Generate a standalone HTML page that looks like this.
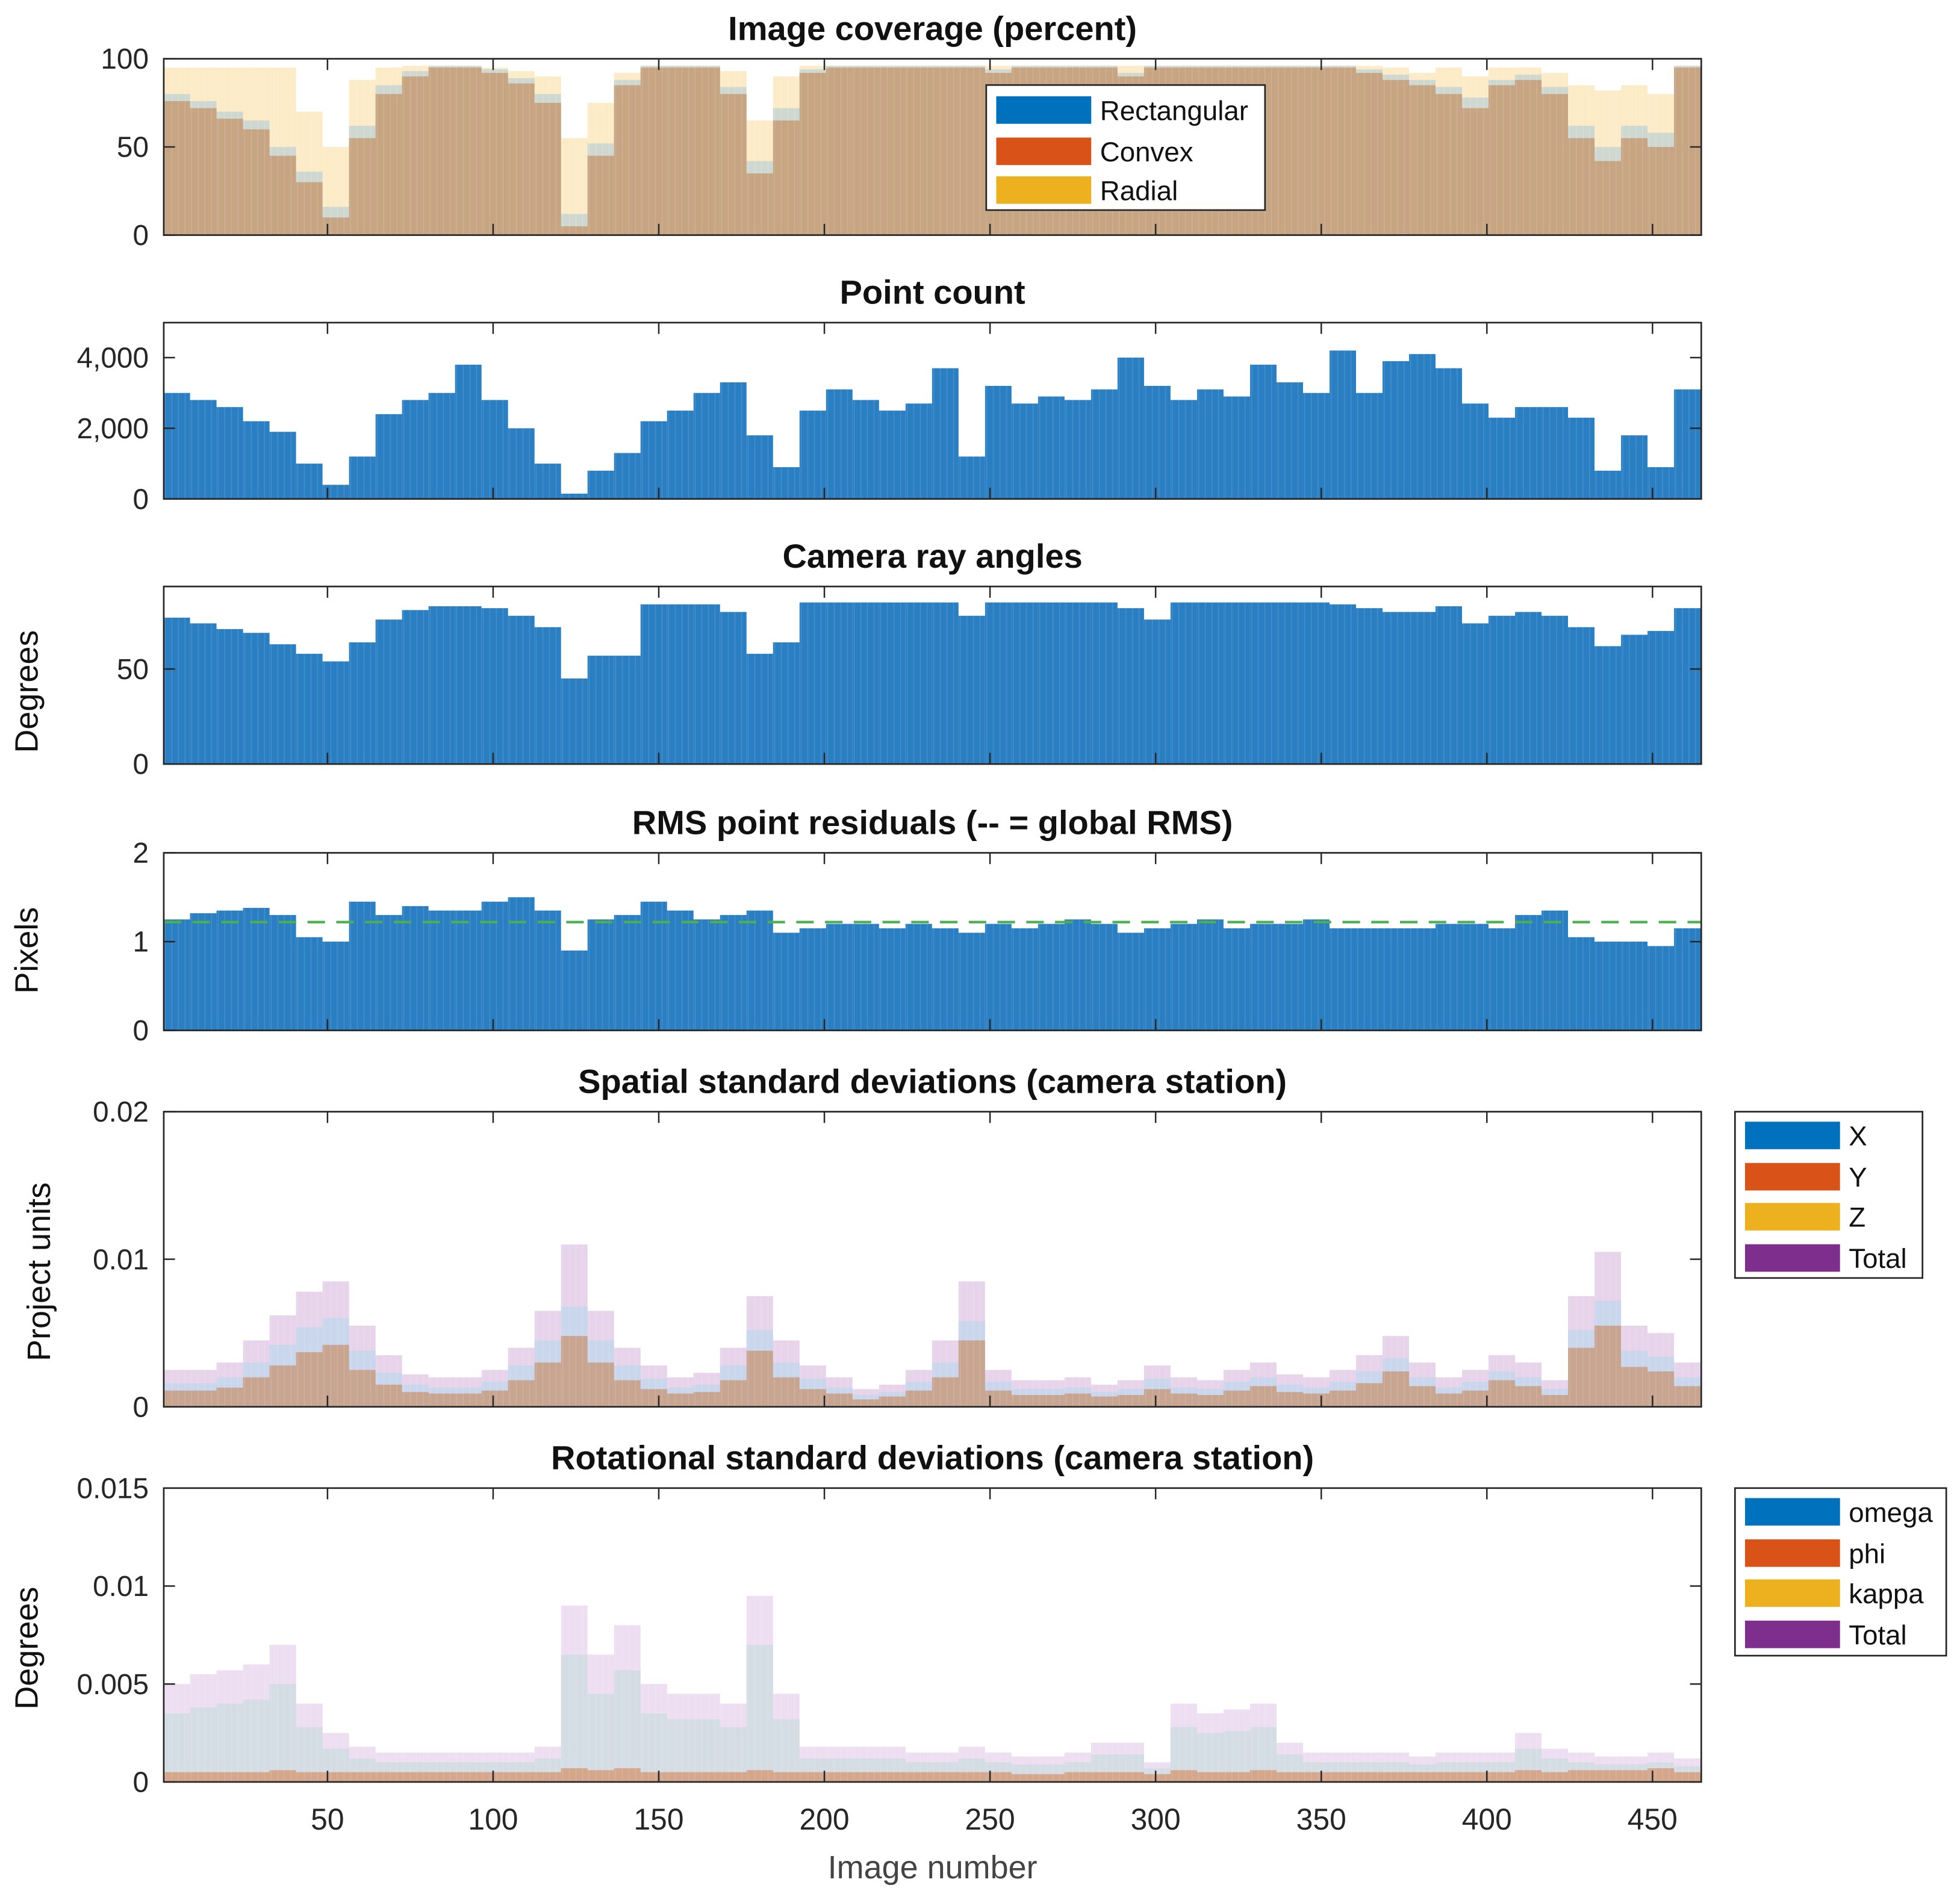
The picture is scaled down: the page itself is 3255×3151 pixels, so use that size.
<!DOCTYPE html>
<html><head><meta charset="utf-8"><style>
html,body{margin:0;padding:0;background:#fff;}
svg{display:block;}
text{font-family:"Liberation Sans",Arial,sans-serif;}
</style></head>
<body>
<svg id="fig" width="3255" height="3151" viewBox="0 0 1568 1517" preserveAspectRatio="none" xmlns="http://www.w3.org/2000/svg">
<rect x="0" y="0" width="1568" height="1517" fill="#fff"/>
</svg>
<script>
// ---- data (one value per bin of 8 images, images 1..464) ----
const binSize = 8;
const xTicks = [50,100,150,200,250,300,350,400,450];
const covRect = [76,72,66,60,45,30,10,55,80,90,95,95,92,86,75,5,45,85,95,95,95,80,35,65,92,95,95,95,95,95,95,92,95,95,95,95,90,95,95,95,95,95,95,95,95,92,88,85,80,72,85,88,80,55,42,55,50,95];
const covConvex = [80,76,70,65,50,36,16,62,85,93,96,96,94,89,80,12,52,88,96,96,96,84,42,72,94,96,96,96,96,96,96,94,96,96,96,96,92,96,96,96,96,96,96,96,96,94,91,88,84,78,88,91,84,62,50,62,58,96];
const covRadial = [95,95,95,95,95,70,50,88,95,96,96,96,95,93,90,55,75,92,96,96,96,93,65,90,96,96,96,96,96,96,96,96,96,96,96,96,96,96,96,96,96,96,96,96,96,96,95,92,95,90,95,95,92,85,82,85,80,96];
const pointCount = [3000,2800,2600,2200,1900,1000,400,1200,2400,2800,3000,3800,2800,2000,1000,150,800,1300,2200,2500,3000,3300,1800,900,2500,3100,2800,2500,2700,3700,1200,3200,2700,2900,2800,3100,4000,3200,2800,3100,2900,3800,3300,3000,4200,3000,3900,4100,3700,2700,2300,2600,2600,2300,800,1800,900,3100];
const rayAngles = [77,74,71,69,63,58,54,64,76,81,83,83,82,78,72,45,57,57,84,84,84,80,58,64,85,85,85,85,85,85,78,85,85,85,85,85,82,76,85,85,85,85,85,85,84,82,80,80,83,74,78,80,78,72,62,68,70,82];
const rmsResid = [1.25,1.32,1.35,1.38,1.3,1.05,1.0,1.45,1.3,1.4,1.35,1.35,1.45,1.5,1.35,0.9,1.25,1.3,1.45,1.35,1.25,1.3,1.35,1.1,1.15,1.2,1.2,1.15,1.2,1.15,1.1,1.2,1.15,1.2,1.25,1.2,1.1,1.15,1.2,1.25,1.15,1.2,1.2,1.25,1.15,1.15,1.15,1.15,1.2,1.2,1.15,1.3,1.35,1.05,1.0,1.0,0.95,1.15];
const globalRms = 1.22;
const spTotal = [0.0025,0.0025,0.003,0.0045,0.0062,0.0078,0.0085,0.0055,0.0035,0.0022,0.002,0.002,0.0025,0.004,0.0065,0.0110,0.0065,0.004,0.0028,0.002,0.0023,0.004,0.0075,0.0045,0.0028,0.002,0.0012,0.0015,0.0025,0.0045,0.0085,0.0025,0.0018,0.0018,0.002,0.0015,0.0018,0.0028,0.002,0.0018,0.0025,0.003,0.0022,0.002,0.0025,0.0035,0.0048,0.003,0.002,0.0025,0.0035,0.003,0.0018,0.0075,0.0105,0.0055,0.005,0.003];
const spX = [0.0016,0.0016,0.002,0.003,0.0042,0.0054,0.006,0.0038,0.0023,0.0015,0.0013,0.0013,0.0017,0.0028,0.0045,0.0068,0.0045,0.0028,0.0019,0.0013,0.0015,0.0028,0.0052,0.003,0.0019,0.0013,0.0008,0.001,0.0017,0.003,0.0058,0.0017,0.0012,0.0012,0.0013,0.001,0.0012,0.0019,0.0013,0.0012,0.0017,0.002,0.0015,0.0013,0.0017,0.0024,0.0033,0.002,0.0013,0.0017,0.0024,0.002,0.0012,0.0052,0.0072,0.0038,0.0034,0.002];
const spY = [0.0011,0.0011,0.0013,0.002,0.0028,0.0037,0.0042,0.0025,0.0015,0.001,0.0009,0.0009,0.0011,0.0018,0.003,0.0048,0.003,0.0018,0.0012,0.0009,0.001,0.0018,0.0038,0.002,0.0012,0.0009,0.0005,0.0007,0.0011,0.002,0.0045,0.0011,0.0008,0.0008,0.0009,0.0007,0.0008,0.0012,0.0009,0.0008,0.0011,0.0014,0.001,0.0009,0.0011,0.0016,0.0024,0.0014,0.0009,0.0011,0.0018,0.0014,0.0008,0.004,0.0055,0.0027,0.0024,0.0014];
const rotTotal = [0.005,0.0055,0.0057,0.006,0.007,0.004,0.0025,0.0018,0.0015,0.0015,0.0015,0.0015,0.0015,0.0015,0.0018,0.009,0.0065,0.008,0.005,0.0045,0.0045,0.004,0.0095,0.0045,0.0018,0.0018,0.0018,0.0018,0.0015,0.0015,0.0018,0.0015,0.0013,0.0013,0.0015,0.002,0.002,0.001,0.004,0.0035,0.0037,0.004,0.002,0.0015,0.0015,0.0015,0.0015,0.0013,0.0015,0.0015,0.0015,0.0025,0.0017,0.0015,0.0013,0.0013,0.0015,0.0012];
const rotOmega = [0.0035,0.0038,0.004,0.0042,0.005,0.0028,0.0017,0.0012,0.001,0.001,0.001,0.001,0.001,0.001,0.0012,0.0065,0.0045,0.0057,0.0035,0.0032,0.0032,0.0028,0.007,0.0032,0.0012,0.0012,0.0012,0.0012,0.001,0.001,0.0012,0.001,0.0009,0.0009,0.001,0.0014,0.0014,0.0007,0.0028,0.0025,0.0026,0.0028,0.0014,0.001,0.001,0.001,0.001,0.0009,0.001,0.001,0.001,0.0017,0.0012,0.001,0.0009,0.0009,0.001,0.0008];
const rotPhi = [0.0005,0.0005,0.0005,0.0005,0.0006,0.0005,0.0005,0.0005,0.0005,0.0005,0.0005,0.0005,0.0005,0.0005,0.0005,0.0007,0.0006,0.0007,0.0005,0.0005,0.0005,0.0005,0.0006,0.0005,0.0005,0.0005,0.0005,0.0005,0.0005,0.0005,0.0005,0.0005,0.0004,0.0004,0.0005,0.0005,0.0005,0.0004,0.0006,0.0005,0.0005,0.0006,0.0005,0.0005,0.0005,0.0005,0.0005,0.0005,0.0005,0.0005,0.0005,0.0006,0.0005,0.0006,0.0006,0.0006,0.0007,0.0005];

const NS = "http://www.w3.org/2000/svg";
const svg = document.getElementById('fig');
const PX0 = 131, PX1 = 1361;
function xs(img){ return 129.5 + 2.65*img; }
function el(tag, attrs, parent){
  const e = document.createElementNS(NS, tag);
  for (const k in attrs) e.setAttribute(k, attrs[k]);
  (parent||svg).appendChild(e);
  return e;
}
function txt(s, x, y, size, opts, parent){
  const t = el('text', Object.assign({x:x, y:y, 'font-size':size, fill:'#262626'}, opts||{}), parent);
  t.textContent = s;
  return t;
}
function panel(name, top, bot, ymax, yticks, ylabels, title){
  const g = el('g', {});
  
  
  const ys = v => bot - (v/ymax)*(bot-top);
  const tt = txt(title, (PX0+PX1)/2, top-15, 27, {'font-weight':'bold','text-anchor':'middle',fill:'#111'}, g);
  
  
  return {g, ys, top, bot, ymax, yticks, ylabels};
}
function bars(p, vals, color, op, sname){
  const gg = el('g', {}, p.g);
  
  
  vals.forEach((v,i)=>{
    const x0 = xs(binSize*i+0.5), x1 = xs(binSize*i+binSize+0.5);
    const y = Math.max(p.top, p.ys(v));
    const r = el('rect', {x:Math.max(PX0,x0), y:y, width:Math.min(PX1,x1)-Math.max(PX0,x0), height:p.bot-y, fill:color, 'fill-opacity':op}, gg);
    
    
  });
  for (let k=1;k<=464;k+=2){
    const bi = Math.floor((k-1)/binSize);
    const y = Math.max(p.top, p.ys(vals[bi]));
    el('line', {x1:xs(k), x2:xs(k), y1:y, y2:p.bot, stroke:'#fff', 'stroke-opacity':0.12, 'stroke-width':0.8}, gg);
  }
}
function axes(p, xlabels){
  const ax = el('g', {}, p.g);
  
  
  el('rect', {x:PX0, y:p.top, width:PX1-PX0, height:p.bot-p.top, fill:'none', stroke:'#262626', 'stroke-width':1.3}, ax);
  xTicks.forEach(t=>{
    const x = xs(t);
    el('line', {x1:x,x2:x,y1:p.bot,y2:p.bot-9, stroke:'#262626','stroke-width':1.2}, ax);
    el('line', {x1:x,x2:x,y1:p.top,y2:p.top+9, stroke:'#262626','stroke-width':1.2}, ax);
    if (xlabels){
      const l = txt(String(t), x, p.bot+38, 24, {'text-anchor':'middle'}, ax);
      
      
    }
  });
  p.yticks.forEach((t,i)=>{
    const y = p.ys(t);
    el('line', {x1:PX0,x2:PX0+9,y1:y,y2:y, stroke:'#262626','stroke-width':1.2}, ax);
    el('line', {x1:PX1,x2:PX1-9,y1:y,y2:y, stroke:'#262626','stroke-width':1.2}, ax);
    const l = txt(p.ylabels[i], PX0-12, y+8, 23, {'text-anchor':'end'}, ax);
    
    
  });
}
function ylabel(s, cx, cy, name){
  const t = txt(s, 0, 0, 26, {'text-anchor':'middle', transform:`translate(${cx},${cy}) rotate(-90)`, fill:'#111'});
  
  
}
function legend(name, x, y, w, h, entries){
  const g = el('g', {});
  
  
  el('rect', {x:x, y:y, width:w, height:h, fill:'#fff', stroke:'#262626', 'stroke-width':1.3}, g);
  entries.forEach((e,i)=>{
    const yy = e[2];
    const sw = el('rect', {x:x+8, y:yy, width:76, height:22, fill:e[1]}, g);
    
    
    const t = txt(e[0], x+91, yy+19, 22, {fill:'#111'}, g);
    
    
  });
}

const p1 = panel('coverage-panel', 47, 188, 100, [0,50,100], ['0','50','100'], 'Image coverage (percent)');
bars(p1, covRadial, '#fbe8bd', 0.85, 'radial-series');
bars(p1, covConvex, '#c9d6d2', 0.9, 'convex-series');
bars(p1, covRect, '#c7a583', 1, 'rectangular-series');
axes(p1, false);
legend('coverage-legend', 789, 68, 223, 100, [['Rectangular','#0072bd',77],['Convex','#d95319',110],['Radial','#edb120',141]]);

const p2 = panel('point-count-panel', 258, 399, 4990, [0,2000,4000], ['0','2,000','4,000'], 'Point count');
bars(p2, pointCount, '#2a7fc3', 1, 'point-count-series');
axes(p2, false);

const p3 = panel('ray-angles-panel', 469, 611, 93.4, [0,50], ['0','50'], 'Camera ray angles');
bars(p3, rayAngles, '#2a7fc3', 1, 'ray-angle-series');
axes(p3, false);
ylabel('Degrees', 30, 553, 'ray-angles-y-title');

const p4 = panel('rms-panel', 682, 824, 2, [0,1,2], ['0','1','2'], 'RMS point residuals (-- = global RMS)');
bars(p4, rmsResid, '#2a7fc3', 1, 'rms-series');
const gl = el('line', {x1:PX0, x2:PX1, y1:p4.ys(globalRms), y2:p4.ys(globalRms), stroke:'#4caf50', 'stroke-width':2, 'stroke-dasharray':'14 9'}, p4.g);


axes(p4, false);
ylabel('Pixels', 30, 760, 'rms-y-title');

const p5 = panel('spatial-sd-panel', 889, 1125, 0.02, [0,0.01,0.02], ['0','0.01','0.02'], 'Spatial standard deviations (camera station)');
bars(p5, spTotal, '#e4cfe9', 0.9, 'total-series');
bars(p5, spX, '#c5d6ec', 0.9, 'x-series');
bars(p5, spY, '#c8a28b', 0.95, 'y-series');
axes(p5, false);
ylabel('Project units', 40, 1017, 'spatial-y-title');
legend('spatial-legend', 1388, 889, 150, 133, [['X','#0072bd',897],['Y','#d95319',930],['Z','#edb120',962],['Total','#7e2f8e',995]]);

const p6 = panel('rotational-sd-panel', 1190, 1425, 0.015, [0,0.005,0.01,0.015], ['0','0.005','0.01','0.015'], 'Rotational standard deviations (camera station)');
bars(p6, rotTotal, '#ecdaef', 0.9, 'total-rot-series');
bars(p6, rotOmega, '#d0dbe2', 0.9, 'omega-series');
bars(p6, rotPhi, '#d4a387', 0.95, 'phi-series');
axes(p6, true);
ylabel('Degrees', 30, 1318, 'rotational-y-title');
legend('rotational-legend', 1388, 1190, 169, 134, [['omega','#0072bd',1198],['phi','#d95319',1231],['kappa','#edb120',1263],['Total','#7e2f8e',1296]]);

const xt = txt('Image number', 746, 1502, 26, {'text-anchor':'middle', fill:'#444'});


</script>
</body></html>
